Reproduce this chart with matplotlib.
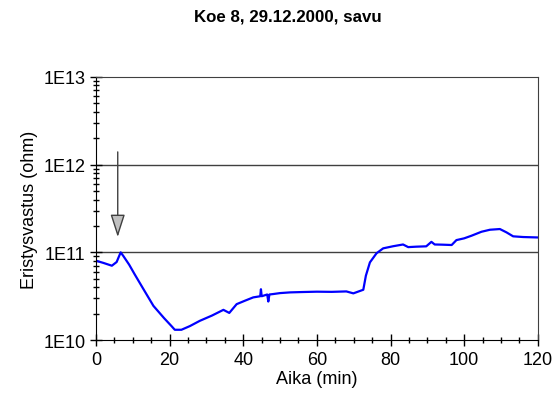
import math
import matplotlib
matplotlib.use("Agg")
import matplotlib.pyplot as plt
from matplotlib.ticker import LogLocator, FixedLocator, MultipleLocator, FuncFormatter

plt.rcParams['font.family'] = ['Liberation Sans', 'DejaVu Sans']

aika = [0, 2, 4.3, 5.6, 6.7, 7.4, 9, 10.5, 12.9, 15.6, 18.5, 20.5, 21.4, 23.2, 25.5,
        28.2, 31.5, 34.6, 36.2, 38.2, 40.5, 42.7, 44.6, 44.8, 45.0, 46.5, 46.8, 47.1,
        48.1, 50, 52.7, 56, 60, 64, 68, 69.9, 72.6, 73.3, 74.4, 76.2, 78, 80.7, 83.4,
        84.8, 87, 89.7, 91.1, 92, 94, 96.6, 97.9, 100, 102, 104.7, 107, 109.7, 111.5,
        113.3, 116, 120]
vastus_log = [10.905, 10.88, 10.848, 10.89, 11.0, 10.96, 10.86, 10.75, 10.58, 10.39,
              10.25, 10.16, 10.118, 10.118, 10.16, 10.22, 10.28, 10.345, 10.31, 10.41,
              10.45, 10.487, 10.50, 10.58, 10.50, 10.52, 10.44, 10.52, 10.525, 10.536,
              10.544, 10.548, 10.552, 10.55, 10.555, 10.533, 10.574, 10.734, 10.886,
              10.99, 11.046, 11.07, 11.09, 11.06, 11.065, 11.069, 11.12, 11.09, 11.088,
              11.084, 11.14, 11.16, 11.19, 11.235, 11.258, 11.266, 11.228, 11.183,
              11.175, 11.17]
vastus = [10 ** v for v in vastus_log]

nuoli_aika = 5.9
nuoli_alku = 10 ** 12.145
nuoli_loppu = 10 ** 11.175

fig = plt.figure(figsize=(5.55, 4.1), dpi=100)
ax = fig.add_axes([0.173, 0.168, 0.796, 0.642])

ax.plot(aika, vastus, color='#0000ff', lw=1.6)

ax.set_yscale('log')
ax.set_xlim(0, 120)
ax.set_ylim(1e10, 1e13)

ax.xaxis.set_major_locator(MultipleLocator(20))
ax.xaxis.set_minor_locator(MultipleLocator(5))
ax.yaxis.set_major_locator(FixedLocator([1e10, 1e11, 1e12, 1e13]))
ax.yaxis.set_minor_locator(LogLocator(base=10, subs=range(2, 10)))
ax.yaxis.set_major_formatter(FuncFormatter(lambda v, p: '1E%d' % round(math.log10(v))))
ax.yaxis.set_minor_formatter(FuncFormatter(lambda v, p: ''))

ax.tick_params(which='major', direction='inout', length=8, width=1, labelsize=13)
ax.tick_params(which='minor', direction='inout', length=5, width=1)
ax.tick_params(axis='y', which='both', right=False)
ax.tick_params(axis='x', which='both', top=False)

for y in [1e11, 1e12]:
    ax.axhline(y, color='#404040', lw=1, zorder=0)
for s in ['top', 'right']:
    ax.spines[s].set_color('#404040')

ax.set_xlabel('Aika (min)', fontsize=13, labelpad=2)
ax.set_ylabel('Eristysvastus (ohm)', fontsize=13)
fig.text(0.519, 0.958, 'Koe 8, 29.12.2000, savu', fontsize=12.2, fontweight='bold',
         ha='center', va='center')

ax.annotate('', xy=(nuoli_aika, nuoli_loppu), xytext=(nuoli_aika, nuoli_alku),
            arrowprops=dict(arrowstyle='-|>,head_length=1.4,head_width=0.45',
                            facecolor='#c0c0c0', edgecolor='#404040', lw=1,
                            shrinkA=0, shrinkB=0))

fig.savefig('out.png', dpi=100)
